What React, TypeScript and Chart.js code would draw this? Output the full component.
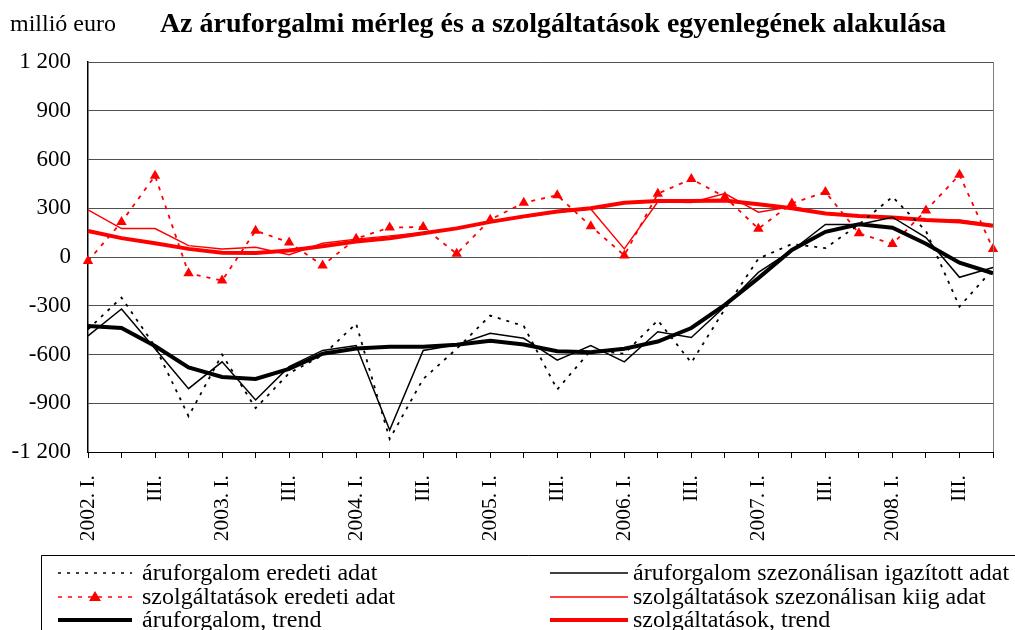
import React, { useEffect, useRef } from "react";
import { Chart, registerables } from "chart.js";

Chart.register(...registerables);

const quarters = [
  "2002. I.", "II.", "III.", "IV.",
  "2003. I.", "II.", "III.", "IV.",
  "2004. I.", "II.", "III.", "IV.",
  "2005. I.", "II.", "III.", "IV.",
  "2006. I.", "II.", "III.", "IV.",
  "2007. I.", "II.", "III.", "IV.",
  "2008. I.", "II.", "III.", "IV.",
];

const yTicks = [1200, 900, 600, 300, 0, -300, -600, -900, -1200];

const aruOriginal = [
  -445, -250, -550, -980, -600, -930, -715, -605, -410, -1120, -750, -565, -360, -425,
  -815, -575, -595, -390, -650, -320, -10, 80, 55, 200, 370, 160, -305, -75,
];
const aruSeasonal = [
  -485, -320, -565, -810, -645, -880, -675, -575, -545, -1065, -575, -540, -470, -500,
  -635, -545, -645, -460, -495, -305, -95, 40, 200, 200, 245, 120, -125, -65,
];
const aruTrend = [
  -425, -437, -548, -680, -738, -750, -688, -595, -563, -553, -553, -540, -515, -538,
  -580, -586, -565, -520, -437, -294, -130, 43, 155, 202, 180, 82, -35, -100,
];
const svcOriginal = [
  -25, 215, 500, -100, -145, 162, 90, -52, 113, 182, 184, 20, 230, 334,
  380, 190, 10, 390, 480, 370, 174, 330, 400, 146, 80, 286, 506, 50,
];
const svcSeasonal = [
  290, 175, 175, 70, 50, 60, 14, 84, 110, 130, 150, 175, 220, 245,
  275, 295, 50, 340, 335, 390, 276, 310, 268, 252, 248, 228, 228, 198,
];
const svcTrend = [
  160, 116, 84, 50, 26, 25, 40, 66, 96, 116, 146, 176, 216, 250,
  280, 300, 334, 344, 345, 348, 325, 300, 268, 253, 243, 228, 218, 192,
];

const seriesNames = [
  "áruforgalom eredeti adat",
  "szolgáltatások eredeti adat",
  "áruforgalom, trend",
  "áruforgalom szezonálisan igazított adat",
  "szolgáltatások szezonálisan kiig adat",
  "szolgáltatások, trend",
];

const titleText = "Az áruforgalmi mérleg és a szolgáltatások egyenlegének alakulása";
const unitText = "millió euro";

const FONT = '"Liberation Serif", "DejaVu Serif", serif';
const RED = "#ff0000";

function fmt(v: number): string {
  const s = Math.abs(v).toString();
  const withSpace = s.length > 3 ? s.slice(0, s.length - 3) + " " + s.slice(s.length - 3) : s;
  return (v < 0 ? "-" : "") + withSpace;
}

const legendItems = [
  { name: seriesNames[0], color: "#000", width: 1.5, dash: [3, 6], tri: false, col: 0, row: 0 },
  { name: seriesNames[1], color: RED, width: 1.5, dash: [4, 6], tri: true, col: 0, row: 1 },
  { name: seriesNames[2], color: "#000", width: 4, dash: [], tri: false, col: 0, row: 2 },
  { name: seriesNames[3], color: "#000", width: 1.5, dash: [], tri: false, col: 1, row: 0 },
  { name: seriesNames[4], color: RED, width: 1.5, dash: [], tri: false, col: 1, row: 1 },
  { name: seriesNames[5], color: RED, width: 4, dash: [], tri: false, col: 1, row: 2 },
];

const decoPlugin = {
  id: "deco",
  afterDraw(chart: any) {
    const ctx = chart.ctx as CanvasRenderingContext2D;
    const { top, bottom, right } = chart.chartArea;
    ctx.save();
    // right frame line
    ctx.strokeStyle = "#808080";
    ctx.lineWidth = 1;
    ctx.setLineDash([]);
    ctx.beginPath();
    ctx.moveTo(Math.round(right) + 0.5, top);
    ctx.lineTo(Math.round(right) + 0.5, bottom);
    ctx.stroke();

    // unit + title
    ctx.fillStyle = "#000";
    ctx.textBaseline = "alphabetic";
    ctx.textAlign = "left";
    ctx.font = `24px ${FONT}`;
    ctx.fillText(unitText, 10, 31);
    ctx.font = `bold 28px ${FONT}`;
    const tw = ctx.measureText(titleText).width;
    ctx.fillText(titleText, 553 - tw / 2, 32);

    // legend box
    ctx.strokeStyle = "#000";
    ctx.lineWidth = 1;
    ctx.beginPath();
    ctx.moveTo(41.5, 640);
    ctx.lineTo(41.5, 555.5);
    ctx.lineTo(1020, 555.5);
    ctx.stroke();

    const rowsY = [573, 597, 620];
    const cols = [
      { x0: 58, x1: 132, tx: 142 },
      { x0: 550, x1: 628, tx: 633 },
    ];
    ctx.font = `24px ${FONT}`;
    for (const it of legendItems) {
      const c = cols[it.col];
      const y = rowsY[it.row];
      ctx.strokeStyle = it.color;
      ctx.lineWidth = it.width;
      ctx.setLineDash(it.dash);
      ctx.beginPath();
      ctx.moveTo(c.x0, y);
      ctx.lineTo(c.x1, y);
      ctx.stroke();
      ctx.setLineDash([]);
      if (it.tri) {
        const cx = (c.x0 + c.x1) / 2;
        ctx.fillStyle = it.color;
        ctx.beginPath();
        ctx.moveTo(cx, y - 6);
        ctx.lineTo(cx + 6, y + 4);
        ctx.lineTo(cx - 6, y + 4);
        ctx.closePath();
        ctx.fill();
      }
      ctx.fillStyle = "#000";
      ctx.fillText(it.name, c.tx, y + 7);
    }
    ctx.restore();
  },
};

export default function App() {
  const ref = useRef<HTMLCanvasElement | null>(null);

  useEffect(() => {
    if (!ref.current) return;
    const chart = new Chart(ref.current, {
      type: "line",
      data: {
        labels: quarters,
        datasets: [
          {
            label: seriesNames[2],
            data: aruTrend,
            borderColor: "#000",
            borderWidth: 4,
            pointRadius: 0,
            tension: 0,
          },
          {
            label: seriesNames[3],
            data: aruSeasonal,
            borderColor: "#000",
            borderWidth: 1.5,
            pointRadius: 0,
            tension: 0,
          },
          {
            label: seriesNames[0],
            data: aruOriginal,
            borderColor: "#000",
            borderWidth: 1.8,
            borderDash: [3, 6],
            pointRadius: 0,
            tension: 0,
          },
          {
            label: seriesNames[5],
            data: svcTrend,
            borderColor: RED,
            borderWidth: 4,
            pointRadius: 0,
            tension: 0,
          },
          {
            label: seriesNames[4],
            data: svcSeasonal,
            borderColor: RED,
            borderWidth: 1.5,
            pointRadius: 0,
            tension: 0,
          },
          {
            label: seriesNames[1],
            data: svcOriginal,
            borderColor: RED,
            borderWidth: 1.8,
            borderDash: [4, 6],
            pointStyle: "triangle",
            pointRadius: 6,
            pointBackgroundColor: RED,
            pointBorderColor: RED,
            pointBorderWidth: 0,
            tension: 0,
          },
        ],
      },
      options: {
        animation: false,
        responsive: false,
        layout: { padding: { top: 62, right: 22, left: 0, bottom: 0 } },
        plugins: {
          legend: { display: false },
          title: { display: false },
          tooltip: { enabled: false },
        },
        scales: {
          x: {
            type: "category",
            offset: false,
            grid: {
              display: true,
              drawOnChartArea: false,
              drawTicks: true,
              tickLength: 6,
              color: "#000",
            },
            border: { display: true, color: "#000", width: 1 },
            ticks: {
              autoSkip: false,
              minRotation: 90,
              maxRotation: 90,
              padding: 17,
              color: "#000",
              font: { family: FONT, size: 21.5 },
              callback: (_v: any, i: number) => (i % 2 === 0 ? quarters[i] : ""),
            },
            afterFit: (scale: any) => {
              scale.height = 178;
              scale.paddingLeft = 0;
              scale.paddingRight = 0;
            },
          },
          y: {
            min: -1200,
            max: 1200,
            afterBuildTicks: (scale: any) => {
              scale.ticks = yTicks.map((v) => ({ value: v }));
            },
            grid: {
              color: "#505050",
              lineWidth: 1,
              drawTicks: false,
            },
            border: { display: true, color: "#000", width: 1.5 },
            ticks: {
              padding: 17,
              color: "#000",
              font: { family: FONT, size: 23 },
              callback: (v: any) => fmt(Number(v)),
            },
            afterFit: (scale: any) => {
              scale.width = 88;
              scale.paddingTop = 0;
              scale.paddingBottom = 0;
            },
          },
        },
      },
      plugins: [decoPlugin],
    } as any);
    return () => chart.destroy();
  }, []);

  return (
    <div style={{ position: "absolute", left: 0, top: 0, width: 1015, height: 630, background: "#fff" }}>
      <canvas ref={ref} width={1015} height={630} style={{ display: "block" }} />
    </div>
  );
}
